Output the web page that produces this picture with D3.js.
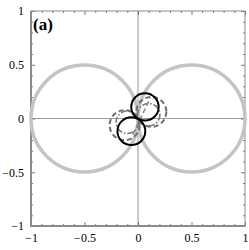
<!DOCTYPE html>
<html>
<head>
<meta charset="utf-8">
<script src="https://cdn.jsdelivr.net/npm/d3@7"></script>
<style>
  body { margin: 0; background: #fff; }
  svg text { font-family: 'Liberation Serif', 'Times New Roman', 'DejaVu Serif', serif !important; }
</style>
</head>
<body>
<div id="chart"></div>
<script>
// tick values and labels
const majorTicks = [-1, -0.5, 0, 0.5, 1];
const tickLabels = ["\u22121", "\u22120.5", "0", "0.5", "1"];
const minorTicks = [-0.9, -0.8, -0.7, -0.6, -0.4, -0.3, -0.2, -0.1, 0.1, 0.2, 0.3, 0.4, 0.6, 0.7, 0.8, 0.9];

// circles: centre x, centre y, radius (one entry per circle)
const bigX = [-0.5, 0.5];
const bigY = [0, 0];
const bigR = [0.5, 0.5];

const solidX = [0.065, -0.062];
const solidY = [0.108, -0.118];
const solidR = [0.128, 0.13];

const dashX = [0.125, -0.125];
const dashY = [0.062, -0.062];
const dashR = [0.14, 0.14];

const dotX = [0.1, -0.1];
const dotY = [0.035, -0.035];
const dotR = [0.105, 0.105];

// straight dashed segment through the origin
const segX = [-0.05, 0.115];
const segY = [-0.15, 0.19];

const w = 249;
const h = 250;
const mLeft = 31, mRight = 245, mTop = 11, mBottom = 226;

const x = d3.scaleLinear().domain([-1, 1]).range([mLeft, mRight]);
const y = d3.scaleLinear().domain([-1, 1]).range([mBottom, mTop]);

const svg = d3.select("#chart")
              .append("svg")
              .attr("width", w)
              .attr("height", h)

const frame = "#8c8c8c";
const serif = "'Liberation Serif', 'Times New Roman', serif";

// axes through origin
svg.append("line")
   .attr("x1", x(0)).attr("x2", x(0))
   .attr("y1", y(-1)).attr("y2", y(1))
   .attr("stroke", "#9a9a9a").attr("stroke-width", 1)
svg.append("line")
   .attr("x1", x(-1)).attr("x2", x(1))
   .attr("y1", y(0)).attr("y2", y(0))
   .attr("stroke", "#9a9a9a").attr("stroke-width", 1)

// ticks pointing inward on all four sides
const fmt = (d) => tickLabels[majorTicks.indexOf(d)];

svg.append("g")
   .attr("transform", `translate(0,${mBottom})`)
   .call(d3.axisBottom(x).tickValues(majorTicks).tickSize(-4).tickPadding(7).tickFormat(fmt))
svg.append("g")
   .attr("transform", `translate(${mLeft},0)`)
   .call(d3.axisLeft(y).tickValues(majorTicks).tickSize(-4).tickPadding(7).tickFormat(fmt))
svg.append("g")
   .attr("transform", `translate(0,${mTop})`)
   .call(d3.axisTop(x).tickValues(majorTicks).tickSize(-4).tickFormat(""))
svg.append("g")
   .attr("transform", `translate(${mRight},0)`)
   .call(d3.axisRight(y).tickValues(majorTicks).tickSize(-4).tickFormat(""))

svg.append("g").attr("transform", `translate(0,${mBottom})`)
   .call(d3.axisBottom(x).tickValues(minorTicks).tickSize(-2).tickFormat(""))
svg.append("g").attr("transform", `translate(0,${mTop})`)
   .call(d3.axisTop(x).tickValues(minorTicks).tickSize(-2).tickFormat(""))
svg.append("g").attr("transform", `translate(${mLeft},0)`)
   .call(d3.axisLeft(y).tickValues(minorTicks).tickSize(-2).tickFormat(""))
svg.append("g").attr("transform", `translate(${mRight},0)`)
   .call(d3.axisRight(y).tickValues(minorTicks).tickSize(-2).tickFormat(""))

svg.selectAll(".domain").attr("stroke", "none")
svg.selectAll("g").attr("font-family", serif)
svg.selectAll(".tick line").attr("stroke", "#555").attr("stroke-width", 0.8)
svg.selectAll(".tick text")
   .style("font-family", serif)
   .attr("font-size", 12)
   .attr("fill", "#000")

// frame
svg.append("rect")
   .attr("x", mLeft).attr("y", mTop)
   .attr("width", mRight - mLeft).attr("height", mBottom - mTop)
   .attr("fill", "none")
   .attr("stroke", frame)
   .attr("stroke-width", 1)
svg.append("line")
   .attr("x1", mLeft).attr("x2", mLeft).attr("y1", mTop).attr("y2", mBottom + 1)
   .attr("stroke", frame).attr("stroke-width", 2)
svg.append("line")
   .attr("x1", mLeft - 1).attr("x2", mRight).attr("y1", mBottom).attr("y2", mBottom)
   .attr("stroke", frame).attr("stroke-width", 2)

const pack = (cx, cy, r) => cx.map((v, i) => ({ cx: v, cy: cy[i], r: r[i] }));

function drawCircles(data, stroke, width, dash) {
  svg.append("g").selectAll("circle")
     .data(data)
     .enter()
     .append("circle")
     .attr("cx", d => x(d.cx))
     .attr("cy", d => y(d.cy))
     .attr("r", d => x(d.r) - x(0))
     .attr("fill", "none")
     .attr("stroke", stroke)
     .attr("stroke-width", width)
     .attr("stroke-dasharray", dash)
}

drawCircles(pack(bigX, bigY, bigR), "#c4c4c4", 3.5, null)
drawCircles(pack(dotX, dotY, dotR), "#7a7a7a", 1.6, "6,2,1.5,2")
drawCircles(pack(dashX, dashY, dashR), "#6e6e6e", 2, "5,3")

svg.append("line")
   .attr("x1", x(segX[0])).attr("y1", y(segY[0]))
   .attr("x2", x(segX[1])).attr("y2", y(segY[1]))
   .attr("stroke", "#8a8a8a").attr("stroke-width", 1.6)
   .attr("stroke-dasharray", "5,3")

drawCircles(pack(solidX, solidY, solidR), "#000", 2, null)

svg.append("text")
   .attr("x", mLeft + 2)
   .attr("y", 30)
   .style("font-family", serif)
   .attr("font-size", 17)
   .attr("font-weight", "bold")
   .text("(a)")
</script>
</body>
</html>
